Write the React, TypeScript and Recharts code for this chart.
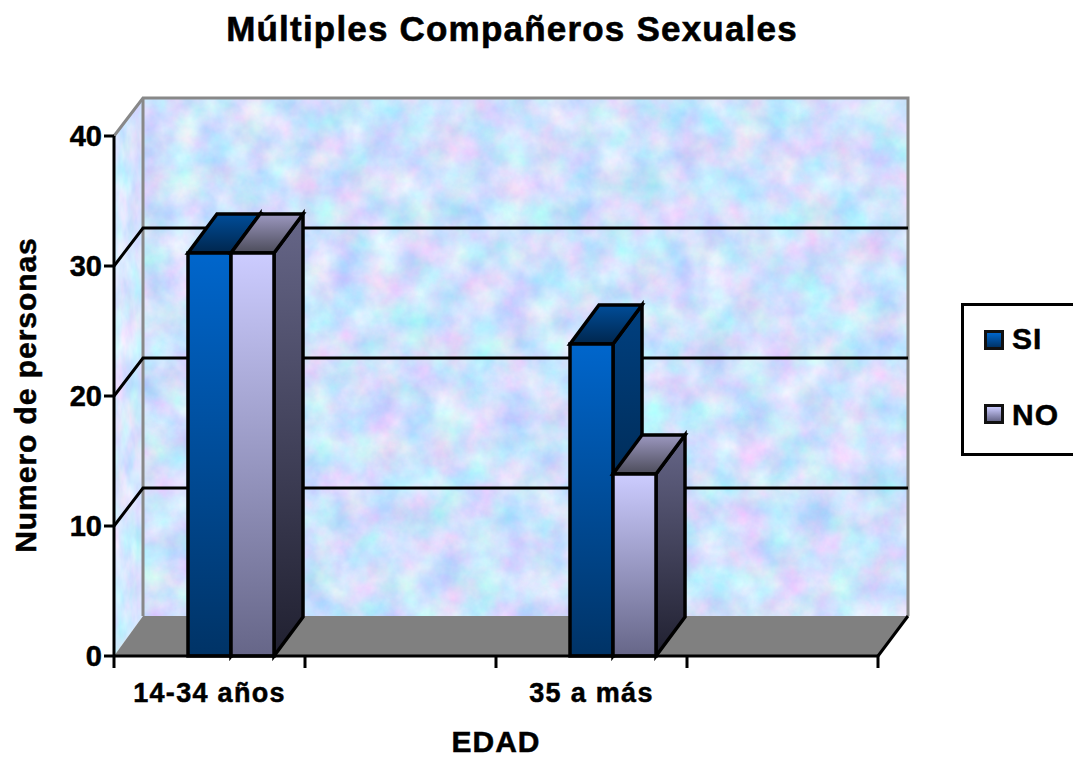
import React from "react";
import { BarChart, Bar, XAxis, YAxis, CartesianGrid, Legend, Customized } from "recharts";

const categories = ["14-34 años", "", "35 a más", ""];
const siValues = [31, null, 24, null];
const noValues = [31, null, 14, null];
const yTicks = [0, 10, 20, 30, 40];

const W = 1073;
const H = 757;
const KEY_W = 130;
const M = { left: 114, right: 195, top: 136, bottom: 101 };
const PLOT_W = W - M.left - M.right;
const PLOT_H = H - M.top - M.bottom;
const BAND = PLOT_W / categories.length;
const DX = 29;
const DY = 39;
const BAR_SHIFT = 21;
const FONT = "'Liberation Sans', Arial, sans-serif";

const rows = categories.map((name, i) => ({ name, SI: siValues[i], NO: noValues[i] }));

type Tone = "si" | "no";

const pts = (list: number[][]) => list.map((p) => p.join(",")).join(" ");

// A column with its front, side and top faces, sitting on the chart floor.
const Column3D = (tone: Tone) => (props: any) => {
  const { x, y, width, height } = props;
  if (!height || height <= 0) return null;
  const l = x + BAR_SHIFT;
  const r = l + width;
  const b = y + height;
  return (
    <g stroke="#000" strokeWidth={3.5} strokeLinejoin="miter">
      <polygon points={pts([[r, y], [r + DX, y - DY], [r + DX, b - DY], [r, b]])} fill={`url(#${tone}-side)`} />
      <polygon points={pts([[l, y], [l + DX, y - DY], [r + DX, y - DY], [r, y]])} fill={`url(#${tone}-top)`} />
      <rect x={l} y={y} width={width} height={height} fill={`url(#${tone}-front)`} />
    </g>
  );
};

const vertical = (id: string, from: string, to: string) => (
  <linearGradient id={id} x1="0" y1="0" x2="0" y2="1">
    <stop offset="0" stopColor={from} />
    <stop offset="1" stopColor={to} />
  </linearGradient>
);

// Shared paint servers plus the walls and floor behind the columns.
const Room = () => {
  const top = M.top;
  const bottom = M.top + PLOT_H;
  const left = M.left;
  const right = M.left + PLOT_W;
  return (
    <g>
      <defs>
        {vertical("si-front", "#0066cc", "#003366")}
        {vertical("si-side", "#004080", "#001a33")}
        {vertical("si-top", "#004d99", "#00264d")}
        {vertical("no-front", "#ccccff", "#666688")}
        {vertical("no-side", "#666688", "#202030")}
        {vertical("no-top", "#9c98c0", "#4c4c5a")}
        <filter id="wall-paper" x="0" y="0" width="1" height="1" colorInterpolationFilters="sRGB">
          <feTurbulence type="fractalNoise" baseFrequency="0.03" numOctaves="5" seed="7" />
          <feColorMatrix
            type="matrix"
            values="0.42 0 0 0 0.6  0 0.27 0 0 0.75  0 0 0.1 0 0.94  0 0 0 0 1"
          />
          <feComposite in2="SourceGraphic" operator="in" />
        </filter>
        <filter id="side-paper" x="0" y="0" width="1" height="1" colorInterpolationFilters="sRGB">
          <feTurbulence type="fractalNoise" baseFrequency="0.07 0.025" numOctaves="4" seed="3" />
          <feColorMatrix
            type="matrix"
            values="0.35 0 0 0 0.66  0 0.22 0 0 0.79  0 0 0.1 0 0.95  0 0 0 0 1"
          />
          <feComposite in2="SourceGraphic" operator="in" />
        </filter>
      </defs>
      <rect x={left + DX} y={top - DY + 1} width={PLOT_W + 1} height={PLOT_H - 1} fill="#cfe0fb" filter="url(#wall-paper)" />
      <polygon
        points={pts([[left, top], [left + DX, top - DY + 1], [left + DX, bottom - DY - 1], [left, bottom]])}
        fill="#d8ecff"
        filter="url(#side-paper)"
      />
      <polygon
        points={pts([[left, bottom], [left + DX, bottom - DY - 1], [right + DX + 1, bottom - DY - 1], [right, bottom]])}
        fill="#808080"
      />
      <g stroke="#888888" strokeWidth={3} fill="none">
        <polyline points={pts([[left, top], [left + DX, top - DY + 1], [right + DX + 1, top - DY + 1], [right + DX + 1, bottom - DY - 1]])} />
        <line x1={left + DX} y1={top - DY + 1} x2={left + DX} y2={bottom - DY - 1} />
      </g>
      <line x1={right} y1={bottom} x2={right + DX + 1} y2={bottom - DY - 1} stroke="#000" strokeWidth={3} />
      <text
        x={512}
        y={41}
        textAnchor="middle"
        fontFamily={FONT}
        fontWeight={700}
        fontSize={35}
        letterSpacing={1.2}
        fill="#000"
        stroke="#000"
        strokeWidth={0.6}
      >
        Múltiples Compañeros Sexuales
      </text>
    </g>
  );
};

// Grid lines run along the side wall, then across the back wall.
const WallLine = (props: any) => {
  const { x1, x2, y1 } = props;
  if (y1 <= M.top + 1 || y1 >= M.top + PLOT_H - 1) return <g />;
  return (
    <polyline
      points={pts([[x1, y1], [x1 + DX, y1 - DY + 1], [x2 + DX + 1, y1 - DY + 1]])}
      fill="none"
      stroke="#000"
      strokeWidth={3}
    />
  );
};

// Category label at the band centre, tick marks on the band edges.
const BandTick = (props: any) => {
  const { x, index, payload } = props;
  const edge = M.top + PLOT_H;
  return (
    <g>
      <line x1={x - BAND / 2} y1={edge} x2={x - BAND / 2} y2={edge + 12} stroke="#000" strokeWidth={3} />
      {index === categories.length - 1 && (
        <line x1={x + BAND / 2} y1={edge} x2={x + BAND / 2} y2={edge + 12} stroke="#000" strokeWidth={3} />
      )}
      <text
        x={x}
        y={702}
        textAnchor="middle"
        fontFamily={FONT}
        fontWeight={700}
        fontSize={27}
        letterSpacing={1.3}
        fill="#000"
        stroke="#000"
        strokeWidth={0.5}
      >
        {payload.value}
      </text>
    </g>
  );
};

// Rotated title of the value axis, centred on the plot height.
const ValueAxisTitle = () => {
  const cy = M.top + PLOT_H / 2 - 1;
  return (
    <text
      x={36}
      y={cy}
      transform={`rotate(-90 36 ${cy})`}
      textAnchor="middle"
      fontFamily={FONT}
      fontWeight={700}
      fontSize={30}
      letterSpacing={0.95}
      fill="#000"
      stroke="#000"
      strokeWidth={0.5}
    >
      Numero de personas
    </text>
  );
};

const keyLabel: React.CSSProperties = {
  position: "absolute",
  left: 48,
  fontFamily: FONT,
  fontWeight: 700,
  fontSize: 30,
  letterSpacing: 1,
  lineHeight: "32px",
  color: "#000",
  WebkitTextStroke: "0.5px #000",
};

const keySwatch = (top: number, paint: string): React.CSSProperties => ({
  position: "absolute",
  left: 20,
  top,
  width: 14,
  height: 14,
  border: "3px solid #111",
  background: paint,
});

const KeyBox = () => (
  <div
    style={{
      position: "relative",
      boxSizing: "border-box",
      width: KEY_W,
      height: 153,
      border: "3px solid #000",
      background: "#fff",
    }}
  >
    <div style={keySwatch(24, "linear-gradient(#0066cc,#003366)")} />
    <div style={{ ...keyLabel, top: 17 }}>SI</div>
    <div style={keySwatch(98, "linear-gradient(#ccccff,#666688)")} />
    <div style={{ ...keyLabel, top: 93 }}>NO</div>
  </div>
);

export default function App() {
  return (
    <div
      style={{
        position: "absolute",
        left: 0,
        top: 0,
        width: W,
        height: H,
        overflow: "hidden",
        background: "#fff",
      }}
    >
      <BarChart
        width={W}
        height={H}
        data={rows}
        margin={{ top: M.top, right: M.right - KEY_W, bottom: 0, left: 0 }}
        barCategoryGap={53}
        barGap={0}
      >
        <Customized component={Room} />
        <CartesianGrid vertical={false} horizontal={WallLine as any} {...({ zIndex: 1 } as any)} />
        <XAxis
          dataKey="name"
          height={M.bottom}
          interval={0}
          tickLine={false}
          axisLine={{ stroke: "#000", strokeWidth: 3 }}
          tick={BandTick as any}
          label={{
            value: "EDAD",
            position: "insideBottom",
            offset: 2,
            dy: -3,
            fontFamily: FONT,
            fontWeight: 700,
            fontSize: 30,
            letterSpacing: 1,
            fill: "#000",
            stroke: "#000",
            strokeWidth: 0.5,
          }}
        />
        <YAxis
          domain={[0, 40]}
          ticks={yTicks}
          width={M.left}
          interval={0}
          tickSize={10}
          tickLine={{ stroke: "#000", strokeWidth: 3 }}
          axisLine={{ stroke: "#000", strokeWidth: 3 }}
          tick={{ fontFamily: FONT, fontWeight: 700, fontSize: 29, fill: "#000", stroke: "#000", strokeWidth: 0.5 }}
          label={{ content: ValueAxisTitle as any }}
        />
        <Bar dataKey="SI" isAnimationActive={false} shape={Column3D("si")} />
        <Bar dataKey="NO" isAnimationActive={false} shape={Column3D("no")} />
        <Legend
          layout="vertical"
          align="right"
          verticalAlign="middle"
          content={KeyBox as any}
          wrapperStyle={{ position: "absolute", left: 961, top: 303, width: KEY_W, right: "auto", bottom: "auto" }}
        />
      </BarChart>
    </div>
  );
}
